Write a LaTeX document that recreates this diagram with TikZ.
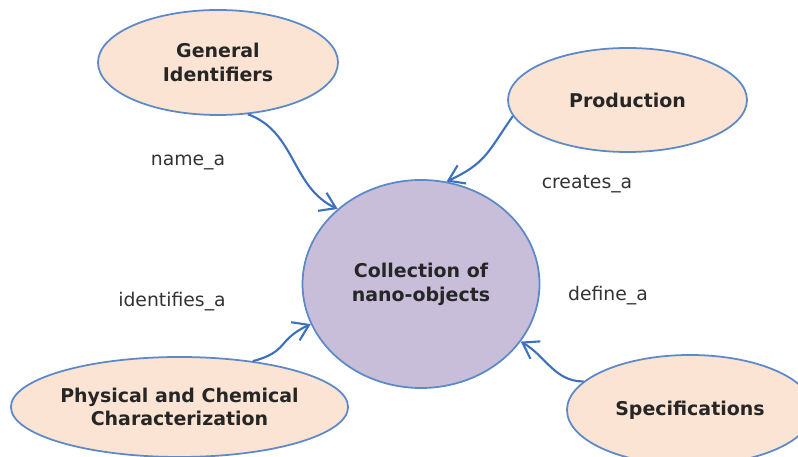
\documentclass[tikz,border=0pt]{standalone}
\usepackage{fontspec}
\setmainfont{DejaVu Sans}
\usetikzlibrary{shapes.geometric,arrows.meta}
\definecolor{linkblue}{HTML}{3F70BC}
\definecolor{rimblue}{HTML}{5C89C8}
\definecolor{peach}{HTML}{FBE4D3}
\definecolor{lilac}{HTML}{C9BEDA}
\def\drawlink{\draw[color=linkblue, line width=1.2pt, -{Straight Barb[length=3mm,width=4mm]}]}
\def\topicnode{\node[ellipse,draw=rimblue,line width=1pt,fill=peach,inner sep=0pt,align=center,text=black!85,font=\bfseries\fontsize{10.8}{13.5}\selectfont]}
\def\relnode{\node[text=black!80,font=\fontsize{10.7}{13}\selectfont]}

\begin{document}
\begin{tikzpicture}[scale=0.2,baseline=(current  bounding  box.center)]
\useasboundingbox (0,0) rectangle (79.8,45.7);
\clip (0,0) rectangle (79.8,45.7);

% the collection in the middle
\node[ellipse,draw=rimblue,line width=1pt,fill=lilac,inner sep=0pt,minimum width=4.74cm,minimum height=4.16cm,align=center,text=black!85,font=\bfseries\fontsize{10.8}{13.5}\selectfont] (coll) at (42.1,17.3) {Collection of\\nano-objects};

% -------- the four topics round it ---------
\topicnode[minimum width=4.8cm,minimum height=2.1cm] (gen) at (21.8,39.45) {General\\Identifiers};
\topicnode[minimum width=4.78cm,minimum height=2.08cm] (prod) at (62.75,35.7) {Production};
\topicnode[minimum width=6.7cm,minimum height=2cm] (phys) at (17.95,5.0) {Physical and Chemical\\Characterization};
\topicnode[minimum width=4.92cm,minimum height=2.2cm] (spec) at (69.0,4.7) {Specifications}; % runs off the right edge

% -------- relations ---------
\drawlink[out=-20,in=155] (gen.-60) to (coll.138);
\drawlink[out=235,in=25,looseness=1.2] (prod.188) to (coll.76);
\drawlink[out=15,in=205,looseness=1.4] (phys.32) to (coll.200);
\drawlink[out=180,in=-30] (spec.165) to (coll.-30);

\relnode (name) at (18.8,29.5) {name\_a};
\relnode (creates) at (58.7,27.3) {creates\_a};
\relnode (identifies) at (17.2,15.5) {identifies\_a};
\relnode (define) at (60.8,16.1) {define\_a};
\end{tikzpicture}
\end{document}
